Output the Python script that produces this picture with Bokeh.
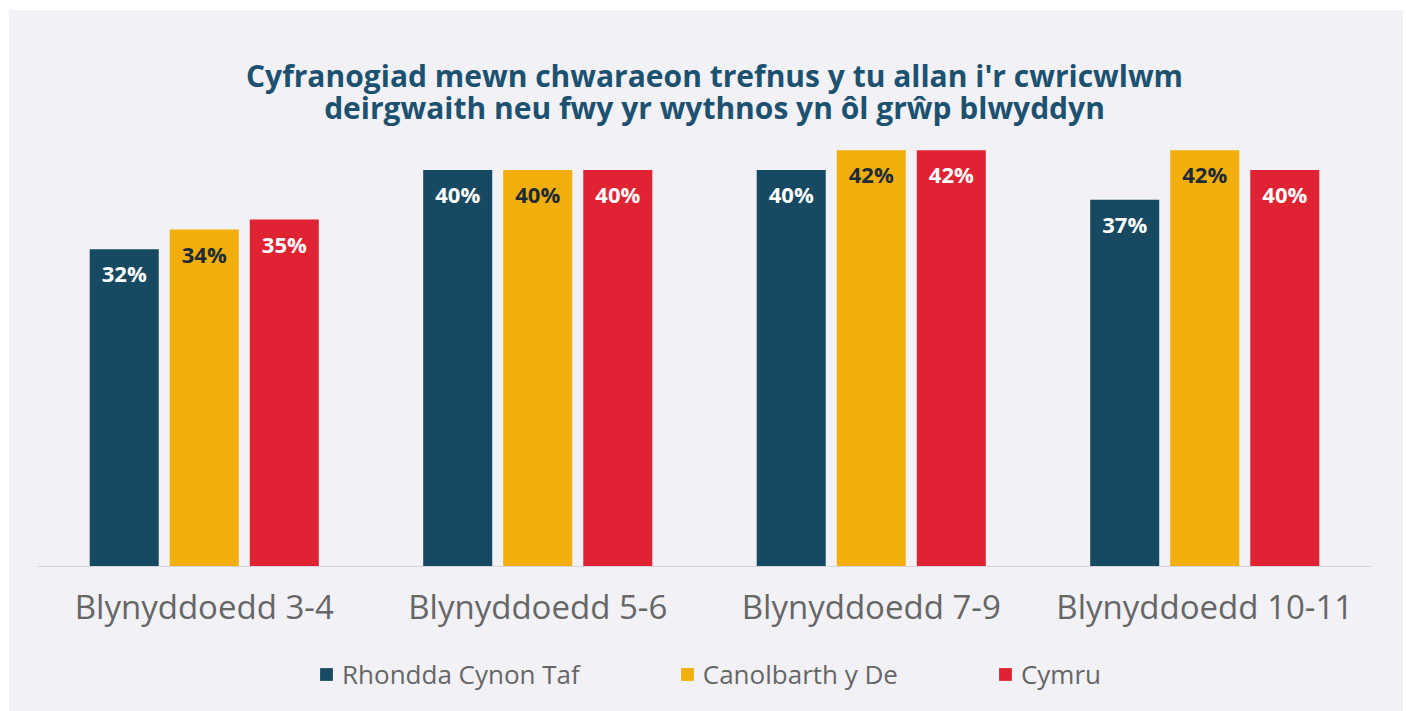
from bokeh.plotting import figure
from bokeh.layouts import column
from bokeh.models import ColumnDataSource, FactorRange, Range1d, Legend, LegendItem, Label
from bokeh.transform import dodge
from bokeh.core.properties import value
from bokeh.embed import file_html
from bokeh.resources import INLINE

categories = ["Blynyddoedd 3-4", "Blynyddoedd 5-6", "Blynyddoedd 7-9", "Blynyddoedd 10-11"]
series_names = ["Rhondda Cynon Taf", "Canolbarth y De", "Cymru"]
rct = [32, 40, 40, 37]
cdd = [34, 40, 42, 42]
cym = [35, 40, 42, 40]
title_lines = ["Cyfranogiad mewn chwaraeon trefnus y tu allan i'r cwricwlwm",
               "deirgwaith neu fwy yr wythnos yn ôl grŵp blwyddyn"]

BG = "#f1f1f6"
NAVY = "#174a62"
YELLOW = "#f2ae0a"
RED = "#e02333"
FONT = "Open Sans"

src = ColumnDataSource(dict(
    cat=categories,
    rct=rct, cdd=cdd, cym=cym,
    rct_l=[f"{v}%" for v in rct],
    cdd_l=[f"{v}%" for v in cdd],
    cym_l=[f"{v}%" for v in cym],
))

p = figure(width=1394, height=630, x_range=FactorRange(*categories, range_padding=0),
           y_range=Range1d(0, 56.1), output_backend="svg", toolbar_location=None,
           min_border_left=28, min_border_right=32, min_border_top=0, min_border_bottom=74)
p.background_fill_color = BG
p.border_fill_color = BG
p.outline_line_color = None
p.grid.visible = False
p.yaxis.visible = False

off = 0.24
w = 0.207
colors = [NAVY, YELLOW, RED]
p.vbar(x=dodge('cat', -off, range=p.x_range), top='rct', width=w, source=src, color=NAVY, line_color=None)
p.vbar(x=dodge('cat', 0, range=p.x_range), top='cdd', width=w, source=src, color=YELLOW, line_color=None)
p.vbar(x=dodge('cat', off, range=p.x_range), top='cym', width=w, source=src, color=RED, line_color=None)

for o, col, lbl, tc in [(-off, 'rct', 'rct_l', "#ffffff"), (0, 'cdd', 'cdd_l', "#1c2b36"), (off, 'cym', 'cym_l', "#ffffff")]:
    p.text(x=dodge('cat', o, range=p.x_range), y=col, text=lbl, source=src, y_offset=24,
           text_align="center", text_baseline="middle", text_font=value(FONT),
           text_font_size="22px", text_font_style="bold", text_color=tc)

for t, yv in zip(title_lines, [49.55, 46.32]):
    p.add_layout(Label(x=2.03, y=yv, text=t, text_align="center", text_baseline="alphabetic",
                       text_font=FONT, text_font_size="30px", text_font_style="bold",
                       text_color="#1d5170"))

ax = p.xaxis[0]
ax.axis_line_color = "#d6d6da"
ax.major_tick_line_color = None
ax.minor_tick_line_color = None
ax.major_tick_out = 0
ax.major_label_standoff = 17
ax.major_label_text_font = FONT
ax.major_label_text_font_size = "33px"
ax.major_label_text_color = "#666666"

# legend strip (same background, directly under the chart)
lf = figure(width=1394, height=71, x_range=Range1d(0, 1), y_range=Range1d(0, 1),
            output_backend="svg", toolbar_location=None,
            min_border_left=0, min_border_right=0, min_border_top=0, min_border_bottom=0)
lf.background_fill_color = BG
lf.border_fill_color = BG
lf.outline_line_color = None
lf.grid.visible = False
lf.axis.visible = False
lr = [lf.vbar(x=[-5], top=[-5], bottom=[-6], width=0.1, color=c, line_color=None) for c in colors]

legend = Legend(items=[LegendItem(label=n, renderers=[r]) for n, r in zip(series_names, lr)],
                orientation="horizontal", location=(281, 19))
legend.label_text_font = FONT
legend.label_text_font_size = "26px"
legend.label_text_color = "#666666"
legend.glyph_width = 16
legend.glyph_height = 16
legend.label_standoff = 8
legend.spacing = 99
legend.background_fill_alpha = 0
legend.border_line_color = None
legend.margin = 0
legend.padding = 0
lf.add_layout(legend, "center")

layout = column(p, lf, spacing=0, margin=(10, 0, 0, 9), styles={"background-color": BG})
open("out.html", "w").write(file_html(layout, INLINE))
